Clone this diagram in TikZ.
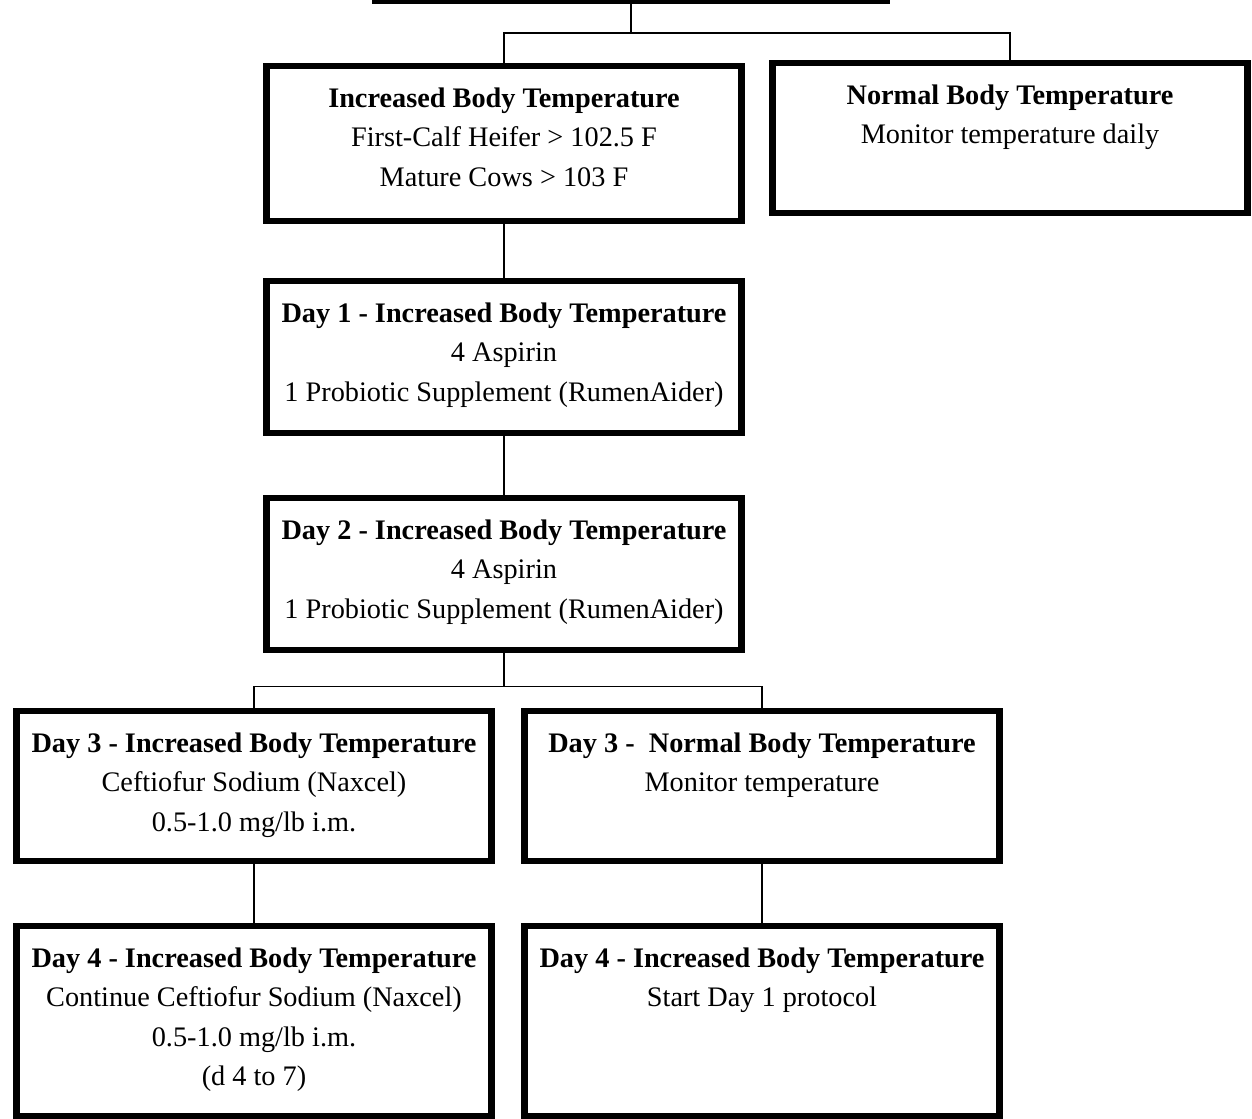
\documentclass[tikz,border=0pt]{standalone}
\usepackage{fontspec}
\setmainfont{Liberation Serif}
\usetikzlibrary{calc}
\newcommand{\stagetext}[2]{\parbox[c][#1][t]{9.5cm}{\centering\rule{0pt}{23.5pt}#2}}
\begin{document}
\begin{tikzpicture}[x=0.02cm, y=-0.02cm,
		stage/.style={draw, line width=3.5pt, inner sep=0pt, anchor=north,
				font=\fontsize{16.1pt}{22.4pt}\selectfont},
		link/.style={line width=0.6pt}]
			\useasboundingbox (0,0) rectangle (1252,1119);
			\clip (0,0) rectangle (1252,1119);
			\node[draw, line width=3.5pt, anchor=south, minimum width=10.24cm, minimum height=2cm] (top) at (631,4) {};
			\node[stage] (inc) at (504,63) {\stagetext{3.1cm}{\textbf{Increased Body Temperature}\\
					First-Calf Heifer > 102.5 F\\ Mature Cows > 103 F}};
			\node[stage] (norm) at (1010,60) {\stagetext{3.0cm}{\textbf{Normal Body Temperature}\\
					Monitor temperature daily}};
			\node[stage] (d1) at (504,278) {\stagetext{3.04cm}{\textbf{Day 1 - Increased Body Temperature}\\
					4 Aspirin\\ 1 Probiotic Supplement (RumenAider)}};
			\node[stage] (d2) at (504,495) {\stagetext{3.04cm}{\textbf{Day 2 - Increased Body Temperature}\\
					4 Aspirin\\ 1 Probiotic Supplement (RumenAider)}};
			\node[stage] (d3a) at (254,708) {\stagetext{3.0cm}{\textbf{Day 3 - Increased Body Temperature}\\
					Ceftiofur Sodium (Naxcel)\\ 0.5-1.0 mg/lb i.m.}};
			\node[stage] (d3b) at (762,708) {\stagetext{3.0cm}{\textbf{Day 3 -\ \ Normal Body Temperature}\\
					Monitor temperature}};
			\node[stage] (d4a) at (254,923) {\stagetext{3.8cm}{\textbf{Day 4 - Increased Body Temperature}\\
					Continue Ceftiofur Sodium (Naxcel)\\ 0.5-1.0 mg/lb i.m.\\ (d 4 to 7)}};
			\node[stage] (d4b) at (762,923) {\stagetext{3.8cm}{\textbf{Day 4 - Increased Body Temperature}\\
					Start Day 1 protocol}};
			% branch lines
			\coordinate (j1) at ($(top.south)+(0,29)$);
			\coordinate (j2) at ($(d2.south)+(0,33)$);
			\draw[link] (top.south) -- (j1);
			\draw[link] (inc.north) |- (j1) -| (norm.north);
			\draw[link] (inc) -- (d1);
			\draw[link] (d1) -- (d2);
			\draw[link] (d2.south) -- (j2);
			\draw[link] (d3a.north) |- (j2) -| (d3b.north);
			\draw[link] (d3a) -- (d4a);
			\draw[link] (d3b) -- (d4b);
		\end{tikzpicture}
\end{document}
